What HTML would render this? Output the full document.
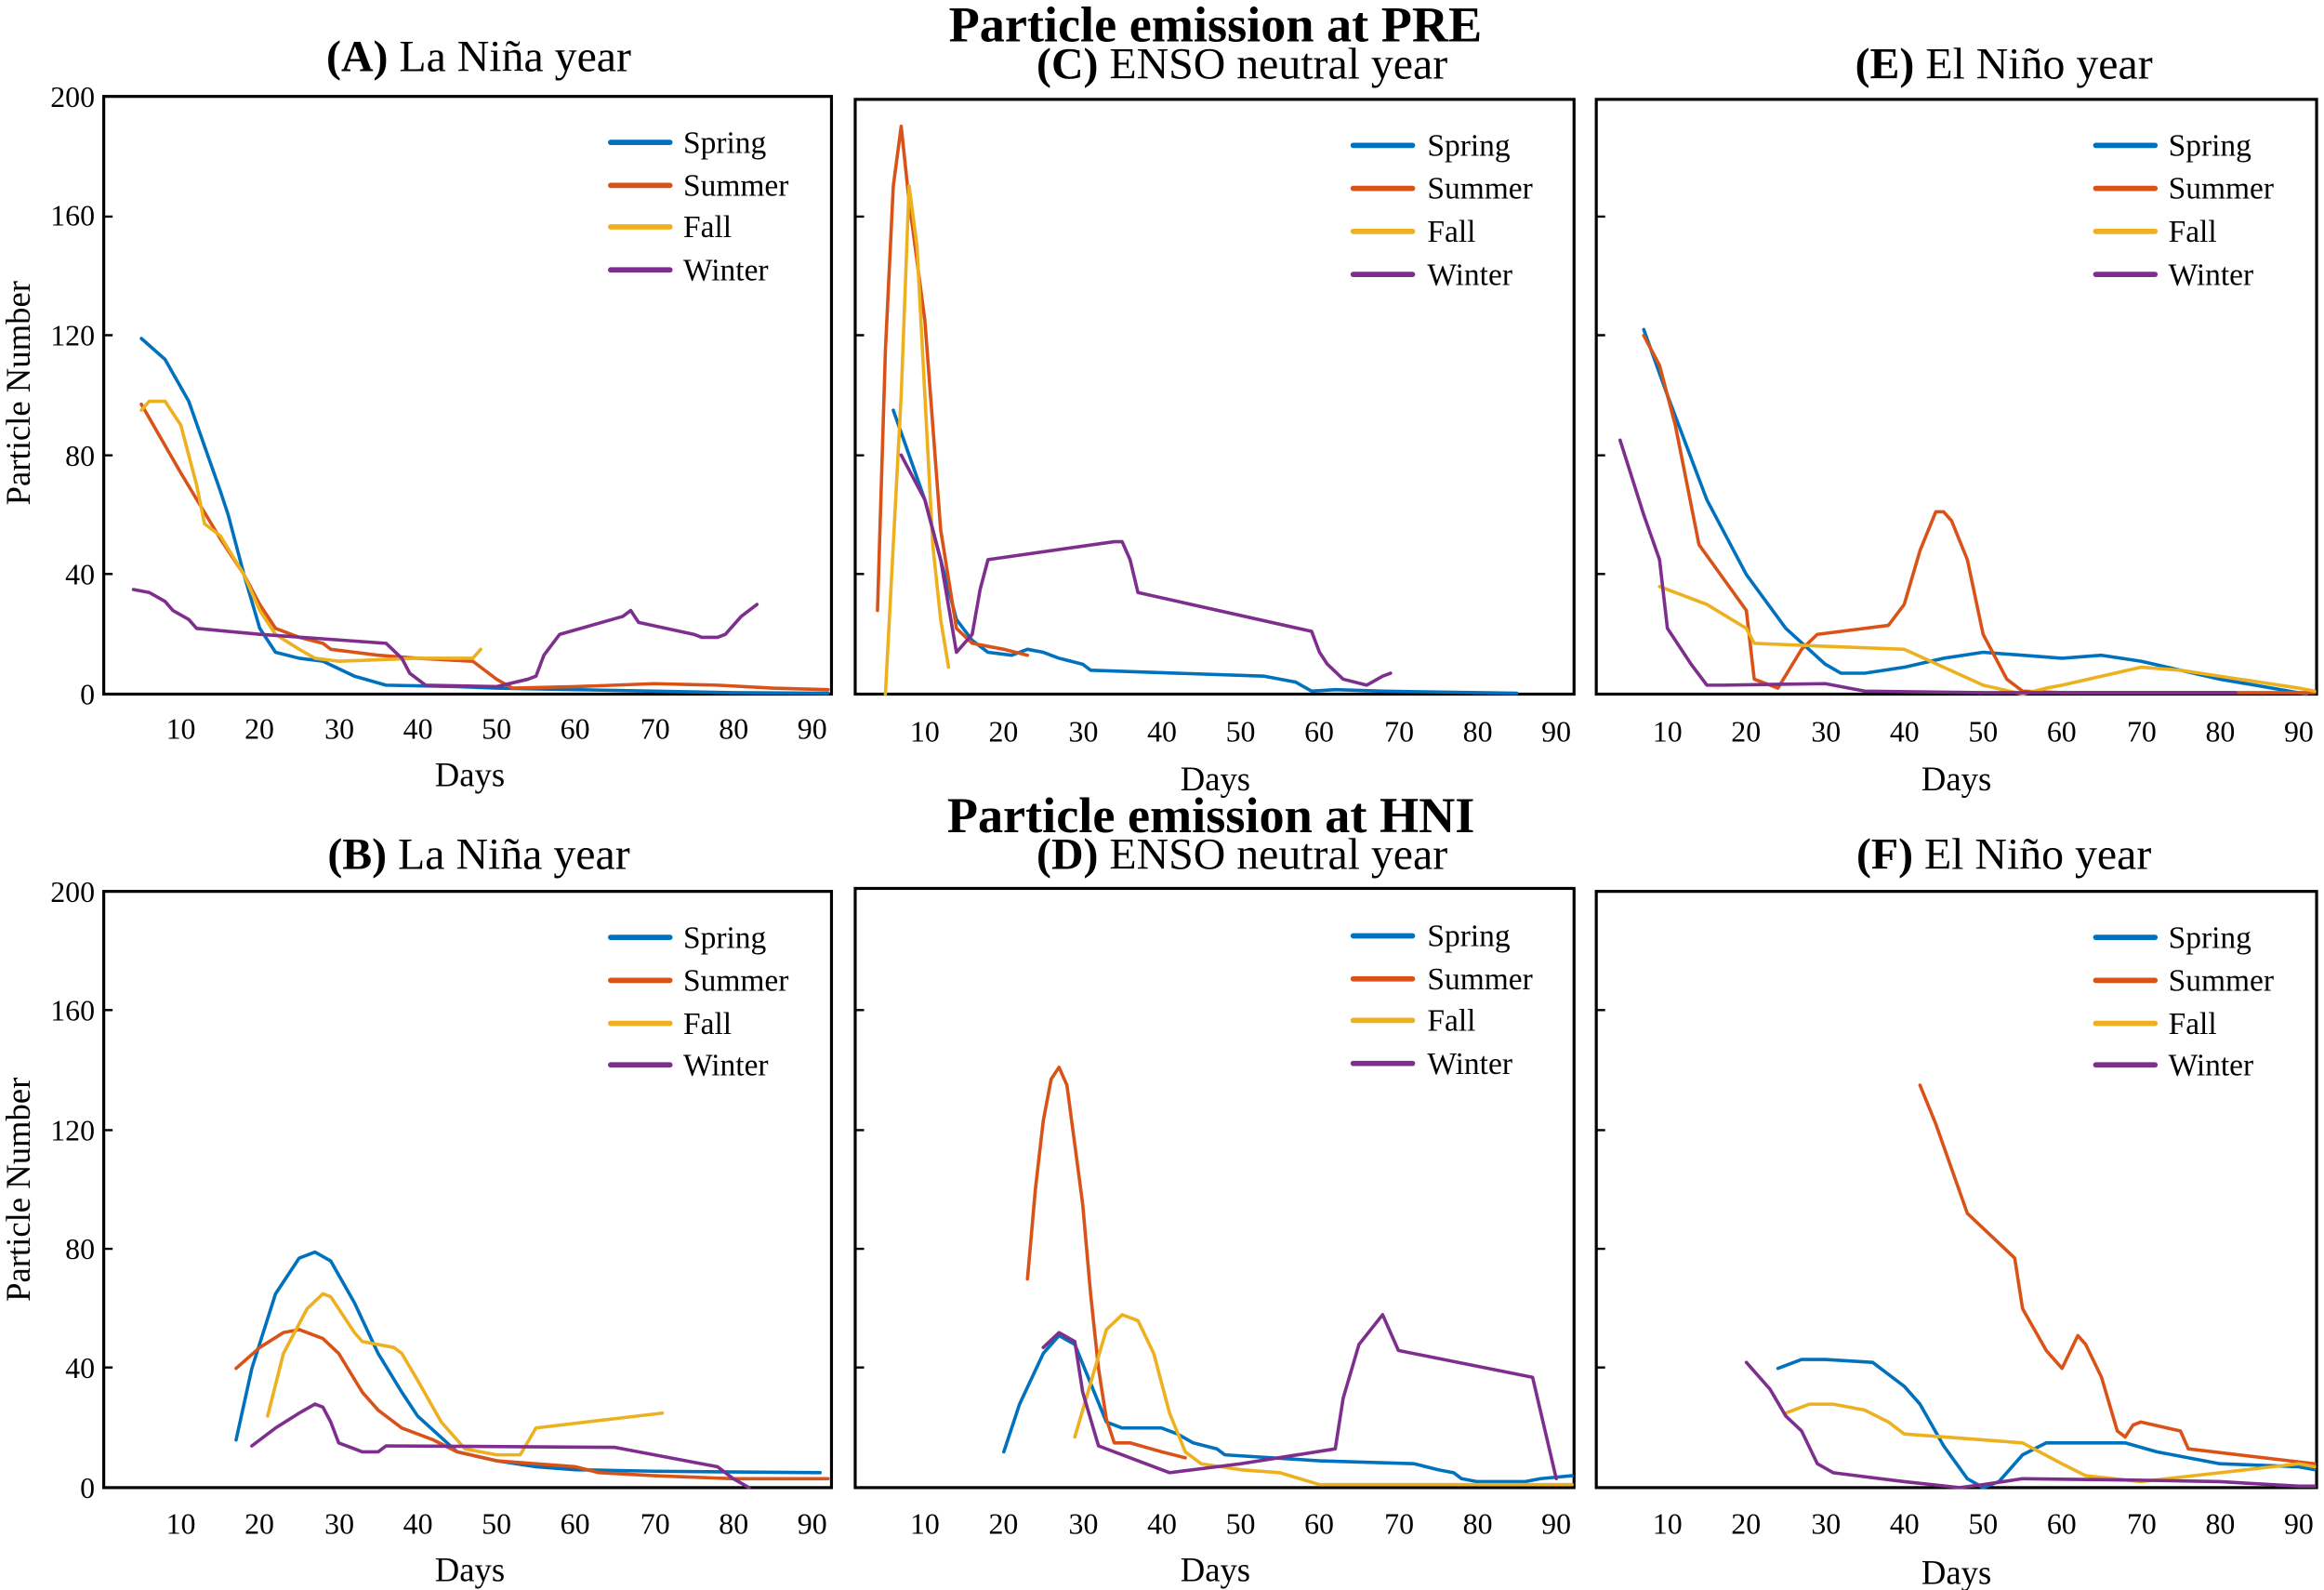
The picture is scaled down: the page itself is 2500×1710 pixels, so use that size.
<!DOCTYPE html>
<html><head><meta charset="utf-8"><style>html,body{margin:0;padding:0;background:#fff}svg{display:block}</style></head>
<body>
<svg width="2500" height="1710" xmlns="http://www.w3.org/2000/svg" font-family="Liberation Serif, serif">
<g transform="scale(1.5944 1.5951)">
<style>
.ax{fill:none;stroke:#000;stroke-width:2}
.t{font-size:20px}
.sp,.su,.fa,.wi{fill:none;stroke-width:3.6;stroke-linejoin:round;stroke-linecap:round}
.sp{stroke:#0072BD}.su{stroke:#D95319}.fa{stroke:#EDB120}.wi{stroke:#7E2F8E}
.lg{font-size:21px}
.pt{font-size:30px}
.mt{font-size:34px;font-weight:bold}
</style>

<!-- Main titles -->
<text class="mt" x="820" y="28" text-anchor="middle">Particle emission at PRE</text>
<text class="mt" x="817" y="561" text-anchor="middle">Particle emission at HNI</text>

<!-- Panel titles -->
<text class="pt" x="323" y="48" text-anchor="middle"><tspan font-weight="bold">(A)</tspan> La Niña year</text>
<text class="pt" x="838" y="53" text-anchor="middle"><tspan font-weight="bold">(C)</tspan> ENSO neutral year</text>
<text class="pt" x="1352" y="53" text-anchor="middle"><tspan font-weight="bold">(E)</tspan> El Niño year</text>
<text class="pt" x="323" y="586" text-anchor="middle"><tspan font-weight="bold">(B)</tspan> La Niña year</text>
<text class="pt" x="838" y="586" text-anchor="middle"><tspan font-weight="bold">(D)</tspan> ENSO neutral year</text>
<text class="pt" x="1352" y="586" text-anchor="middle"><tspan font-weight="bold">(F)</tspan> El Niño year</text>

<!-- Boxes -->
<rect class="ax" x="70" y="65" width="491" height="403"/>
<rect class="ax" x="577" y="67" width="485" height="401"/>
<rect class="ax" x="1077" y="67" width="486" height="401"/>
<rect class="ax" x="70" y="601" width="491" height="402"/>
<rect class="ax" x="577" y="599" width="485" height="404"/>
<rect class="ax" x="1077" y="601" width="486" height="402"/>

<!-- Y ticks labels -->
<g class="t" text-anchor="end">
<text x="64" y="72">200</text><text x="64" y="152">160</text><text x="64" y="233">120</text><text x="64" y="314">80</text><text x="64" y="394">40</text><text x="64" y="475">0</text>
<text x="64" y="608">200</text><text x="64" y="688">160</text><text x="64" y="769">120</text><text x="64" y="849">80</text><text x="64" y="929">40</text><text x="64" y="1010">0</text>
</g>
<g stroke="#000" stroke-width="1.5">
<path d="M70 146h6M70 226h6M70 307h6M70 387h6M577 146h6M577 226h6M577 307h6M577 387h6M1077 146h6M1077 226h6M1077 307h6M1077 387h6"/>
<path d="M70 681h6M70 762h6M70 842h6M70 922h6M577 681h6M577 762h6M577 842h6M577 922h6M1077 681h6M1077 762h6M1077 842h6M1077 922h6"/>
</g>

<!-- X tick labels -->
<g class="t" text-anchor="middle">
<text x="122" y="498">10</text><text x="175" y="498">20</text><text x="229" y="498">30</text><text x="282" y="498">40</text><text x="335" y="498">50</text><text x="388" y="498">60</text><text x="442" y="498">70</text><text x="495" y="498">80</text><text x="548" y="498">90</text>
<text x="624" y="500">10</text><text x="677" y="500">20</text><text x="731" y="500">30</text><text x="784" y="500">40</text><text x="837" y="500">50</text><text x="890" y="500">60</text><text x="944" y="500">70</text><text x="997" y="500">80</text><text x="1050" y="500">90</text>
<text x="1125" y="500">10</text><text x="1178" y="500">20</text><text x="1232" y="500">30</text><text x="1285" y="500">40</text><text x="1338" y="500">50</text><text x="1391" y="500">60</text><text x="1445" y="500">70</text><text x="1498" y="500">80</text><text x="1551" y="500">90</text>
<text x="122" y="1034">10</text><text x="175" y="1034">20</text><text x="229" y="1034">30</text><text x="282" y="1034">40</text><text x="335" y="1034">50</text><text x="388" y="1034">60</text><text x="442" y="1034">70</text><text x="495" y="1034">80</text><text x="548" y="1034">90</text>
<text x="624" y="1034">10</text><text x="677" y="1034">20</text><text x="731" y="1034">30</text><text x="784" y="1034">40</text><text x="837" y="1034">50</text><text x="890" y="1034">60</text><text x="944" y="1034">70</text><text x="997" y="1034">80</text><text x="1050" y="1034">90</text>
<text x="1125" y="1034">10</text><text x="1178" y="1034">20</text><text x="1232" y="1034">30</text><text x="1285" y="1034">40</text><text x="1338" y="1034">50</text><text x="1391" y="1034">60</text><text x="1445" y="1034">70</text><text x="1498" y="1034">80</text><text x="1551" y="1034">90</text>
</g>

<!-- Axis labels -->
<g font-size="23" text-anchor="middle">
<text x="317" y="530">Days</text><text x="820" y="533">Days</text><text x="1320" y="533">Days</text>
<text x="317" y="1066">Days</text><text x="820" y="1066">Days</text><text x="1320" y="1068">Days</text>
<text transform="translate(20 265) rotate(-90)">Particle Number</text>
<text transform="translate(20 802) rotate(-90)">Particle Number</text>
</g>

<!-- Legends -->
<g class="lg">
<path class="sp" d="M412 96h40"/><path class="su" d="M412 125h40"/><path class="fa" d="M412 153h40"/><path class="wi" d="M412 182h40"/>
<text x="461" y="103">Spring</text><text x="461" y="132">Summer</text><text x="461" y="160">Fall</text><text x="461" y="189">Winter</text>
<path class="sp" d="M913 98h40"/><path class="su" d="M913 127h40"/><path class="fa" d="M913 156h40"/><path class="wi" d="M913 185h40"/>
<text x="963" y="105">Spring</text><text x="963" y="134">Summer</text><text x="963" y="163">Fall</text><text x="963" y="192">Winter</text>
<path class="sp" d="M1414 98h40"/><path class="su" d="M1414 127h40"/><path class="fa" d="M1414 156h40"/><path class="wi" d="M1414 185h40"/>
<text x="1463" y="105">Spring</text><text x="1463" y="134">Summer</text><text x="1463" y="163">Fall</text><text x="1463" y="192">Winter</text>
<path class="sp" d="M412 632h40"/><path class="su" d="M412 661h40"/><path class="fa" d="M412 690h40"/><path class="wi" d="M412 718h40"/>
<text x="461" y="639">Spring</text><text x="461" y="668">Summer</text><text x="461" y="697">Fall</text><text x="461" y="725">Winter</text>
<path class="sp" d="M913 631h40"/><path class="su" d="M913 660h40"/><path class="fa" d="M913 688h40"/><path class="wi" d="M913 717h40"/>
<text x="963" y="638">Spring</text><text x="963" y="667">Summer</text><text x="963" y="695">Fall</text><text x="963" y="724">Winter</text>
<path class="sp" d="M1414 632h40"/><path class="su" d="M1414 661h40"/><path class="fa" d="M1414 690h40"/><path class="wi" d="M1414 718h40"/>
<text x="1463" y="639">Spring</text><text x="1463" y="668">Summer</text><text x="1463" y="697">Fall</text><text x="1463" y="725">Winter</text>
</g>

<!-- Panel A -->
<g transform="matrix(5.325 0 0 -2.015 68.75 468)">
<polyline class="sp" vector-effect="non-scaling-stroke" points="5,119 8,112 11,98 13,83 15,68 16,60 18,40 20,22 22,14 25,12 28,11 32,6 36,3 45,2.5 50,2 60,1.5 70,1 80,0.5 92,0.3"/>
<polyline class="su" vector-effect="non-scaling-stroke" points="5,97 10,74 15,52 18,40 20,30 22,22 25,19 28,17 29,15 35,13 40,12 47,11 50,5 52,2 60,2.5 70,3.5 78,3 85,2 92,1.5"/>
<polyline class="fa" vector-effect="non-scaling-stroke" points="5,95 6,98 8,98 10,90 12,70 13,57 15,53 18,40 20,28 22,20 25,15 27,12 30,11 40,12 47,12 48,15"/>
<polyline class="wi" vector-effect="non-scaling-stroke" points="4,35 6,34 8,31 9,28 11,25 12,22 20,20 36,17 38,12 39,7 41,3 50,2.5 54,5 55,6 56,13 58,20 66,26 67,28 68,24 75,20 76,19 78,19 79,20 81,26 83,30"/>
</g>
<!-- Panel C -->
<g transform="matrix(5.325 0 0 -2.015 570.75 468)">
<polyline class="sp" vector-effect="non-scaling-stroke" points="6,95 8,80 10,65 12,45 14,25 16,18 18,14 21,13 23,15 25,14 27,12 30,10 31,8 53,6 57,4 59,1 62,1.5 68,1 85,0.3"/>
<polyline class="su" vector-effect="non-scaling-stroke" points="4,28 5,115 6,170 7,190 8,165 10,125 11,90 12,55 14,22 16,17 20,15 23,13"/>
<polyline class="fa" vector-effect="non-scaling-stroke" points="5,0 7,100 8,170 9,150 10,100 11,50 12,25 13,9"/>
<polyline class="wi" vector-effect="non-scaling-stroke" points="7,80 10,65 12,45 14,14 16,20 17,35 18,45 34,51 35,51 36,45 37,34 59,21 60,14 61,10 63,5 66,3 68,6 69,7"/>
</g>
<!-- Panel E -->
<g transform="matrix(5.325 0 0 -2.015 1071.75 468)">
<polyline class="sp" vector-effect="non-scaling-stroke" points="7,122 10,100 15,65 20,40 25,22 30,10 32,7 35,7 40,9 45,12 50,14 55,13 60,12 65,13 70,11 80,5 91,0"/>
<polyline class="su" vector-effect="non-scaling-stroke" points="7,120 9,110 11,90 14,50 20,28 21,5 24,2 27,15 29,20 38,23 40,30 42,48 44,61 45,61 46,58 48,45 50,20 53,5 55,1 60,0.5 92,0.5"/>
<polyline class="fa" vector-effect="non-scaling-stroke" points="9,36 15,30 20,22 21,17 30,16 40,15 50,3 55,0 58,2 60,3 65,6 70,9 75,8 80,6 90,2 92,1"/>
<polyline class="wi" vector-effect="non-scaling-stroke" points="4,85 7,60 9,45 10,22 13,10 15,3 17,3 30,3.5 35,1 50,0.5 80,0.5 82,0.5"/>
</g>
<!-- Panel B -->
<g transform="matrix(5.325 0 0 -2.01 68.75 1003)">
<polyline class="sp" vector-effect="non-scaling-stroke" points="17,16 19,40 22,65 25,77 27,79 29,76 32,62 35,45 38,32 40,24 45,12 50,9 55,7 60,6 70,5.5 91,5"/>
<polyline class="su" vector-effect="non-scaling-stroke" points="17,40 20,47 23,52 25,53 28,50 30,45 33,32 35,26 38,20 42,16 45,12 50,9 60,7 63,5 70,4 80,3 92,3"/>
<polyline class="fa" vector-effect="non-scaling-stroke" points="21,24 23,45 26,60 28,65 29,64 30,60 32,52 33,49 37,47 38,45 40,36 43,22 46,13 50,11 53,11 55,20 71,25"/>
<polyline class="wi" vector-effect="non-scaling-stroke" points="19,14 22,20 25,25 27,28 28,27 29,22 30,15 33,12 35,12 36,14 65,13.5 70,11 78,7 80,3 82,0"/>
</g>
<!-- Panel D -->
<g transform="matrix(5.325 0 0 -2.01 570.75 1003)">
<polyline class="sp" vector-effect="non-scaling-stroke" points="20,12 22,28 25,45 27,51 29,48 31,35 33,22 35,20 38,20 40,20 42,18 44,15 47,13 48,11 60,9 72,8 75,6 77,5 78,3 80,2 86,2 88,3 92,4"/>
<polyline class="su" vector-effect="non-scaling-stroke" points="23,70 24,100 25,123 26,137 27,141 28,135 29,115 30,95 31,65 32,40 33,23 34,15 36,15 40,12 43,10"/>
<polyline class="fa" vector-effect="non-scaling-stroke" points="29,17 31,35 33,53 35,58 37,56 39,45 41,25 43,12 45,8 50,6 55,5 60,1 70,1 92,1"/>
<polyline class="wi" vector-effect="non-scaling-stroke" points="25,47 27,52 29,49 30,32 32,14 36,10 41,5 50,8 62,13 63,30 65,48 68,58 70,46 87,37 90,3"/>
</g>
<!-- Panel F -->
<g transform="matrix(5.325 0 0 -2.01 1071.75 1003)">
<polyline class="sp" vector-effect="non-scaling-stroke" points="24,40 27,43 30,43 36,42 40,34 42,28 45,14 48,3 50,0 52,2 55,11 58,15 68,15 72,12 80,8 90,7 92,6"/>
<polyline class="su" vector-effect="non-scaling-stroke" points="42,135 44,122 48,92 54,77 55,60 58,46 60,40 62,51 63,48 65,37 67,19 68,17 69,21 70,22 75,19 76,13 92,8"/>
<polyline class="fa" vector-effect="non-scaling-stroke" points="25,25 28,28 31,28 35,26 38,22 40,18 55,15 60,8 63,4 70,2 80,5 90,8 92,7"/>
<polyline class="wi" vector-effect="non-scaling-stroke" points="20,42 23,33 25,24 27,19 29,8 31,5 40,2 47,0 50,1 55,3 70,2.5 80,2 90,0.5 92,0.5"/>
</g>
</g>
</svg>
</body></html>
